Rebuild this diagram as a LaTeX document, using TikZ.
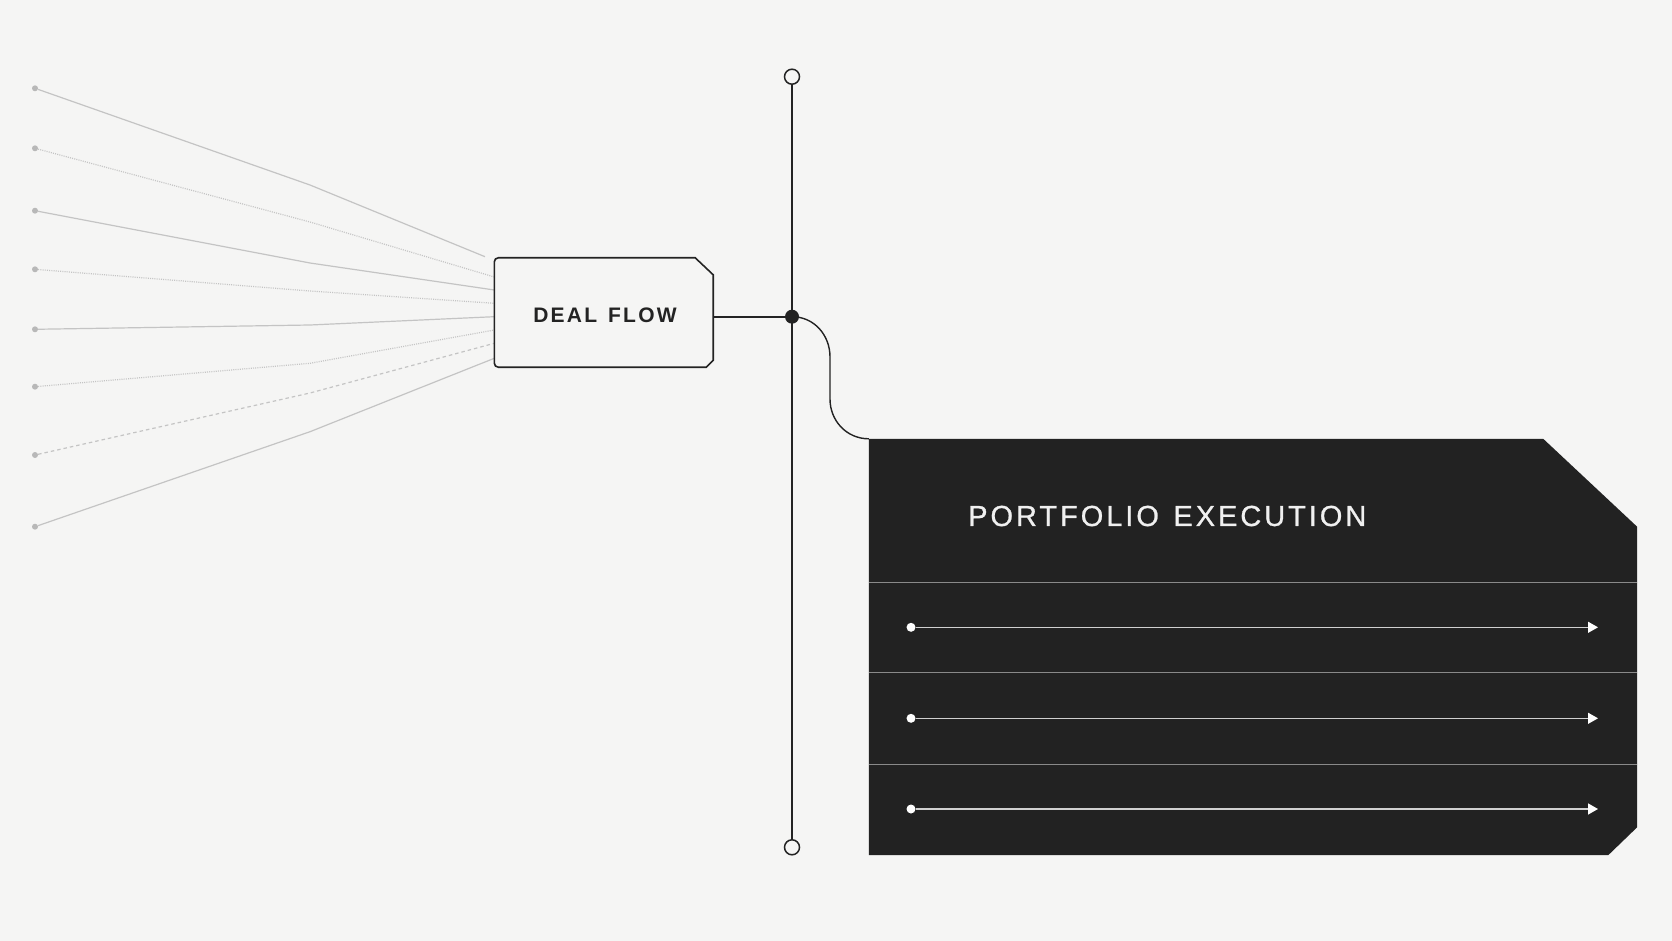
\documentclass[tikz,border=0pt]{standalone}
\usepackage{fontspec}
\setmainfont{Liberation Sans}
\newfontfamily\dealfont{Liberation Sans}[LetterSpace=10.5]
\newfontfamily\portfont{Liberation Sans}[LetterSpace=10.2,FakeBold=0.8]
\usetikzlibrary{calc,arrows.meta}
\definecolor{bgc}{HTML}{F5F5F4}
\definecolor{ink}{HTML}{232323}
\definecolor{fan}{HTML}{C4C4C4}
\definecolor{srcdot}{HTML}{B8B8B8}
\definecolor{panel}{HTML}{222222}
\definecolor{divc}{HTML}{8A8A8A}
\definecolor{rowc}{HTML}{D0D0D0}
\tikzset{
  fanline/.style={draw=fan, line width=1.2pt},
  fandot/.style={fanline, dash pattern=on 1pt off 1.2pt},
  fandash/.style={fanline, dash pattern=on 3.5pt off 3pt},
  srcnode/.style={circle, fill=srcdot, minimum size=6pt, inner sep=0pt},
  inkline/.style={draw=ink, line width=1.6pt},
  endcirc/.style={circle, draw=ink, line width=1.5pt, fill=bgc, minimum size=15pt, inner sep=0pt},
  jdotstyle/.style={circle, fill=ink, minimum size=14pt, inner sep=0pt},
  rowdot/.style={circle, fill=white, minimum size=9pt, inner sep=0pt},
  rowline/.style={draw=rowc, line width=1.3pt, -{Triangle[length=10pt,width=11pt,fill=white,color=white]}},
  divline/.style={draw=divc, line width=0.9pt},
}
\begin{document}
\begin{tikzpicture}[x=1pt,y=-1pt]
\fill[bgc] (0,0) rectangle (1672,941);
\useasboundingbox (0,0) rectangle (1672,941);

% source dots
\node[srcnode] (s1) at (35,88.3) {};
\node[srcnode] (s2) at (35,148.3) {};
\node[srcnode] (s3) at (35,210.7) {};
\node[srcnode] (s4) at (35,269.3) {};
\node[srcnode] (s5) at (35,329.3) {};
\node[srcnode] (s6) at (35,386.7) {};
\node[srcnode] (s7) at (35,455) {};
\node[srcnode] (s8) at (35,526.7) {};

% bends
\coordinate (b1) at (310,185);
\coordinate (b2) at (310,222);
\coordinate (b3) at (310,263);
\coordinate (b4) at (310,291);
\coordinate (b5) at (310,325);
\coordinate (b6) at (310,363.3);
\coordinate (b7) at (310,393);
\coordinate (b8) at (310,431.7);

% deal flow box
\node[minimum width=218.5pt, minimum height=109pt, inner sep=0pt] (deal) at (603.75,312.5) {};
\node[anchor=center, inner sep=0pt, text=ink] (dealtxt) at (605,315)
  {\fontsize{21}{25}\selectfont\dealfont\bfseries DEAL\hspace{3pt} FLOW};

% end points on the box
\coordinate (e1) at (485,256.7);
\coordinate (e2) at (deal.west |- 0,277);
\coordinate (e3) at (deal.west |- 0,290);
\coordinate (e4) at (deal.west |- 0,303.3);
\coordinate (e5) at (deal.west |- 0,316.7);
\coordinate (e6) at (deal.west |- 0,330);
\coordinate (e7) at (deal.west |- 0,343.3);
\coordinate (e8) at (deal.west |- 0,358.3);

\draw[fanline] (s1) -- (b1) -- (e1);
\draw[fandot]  (s2) -- (b2) -- (e2);
\draw[fanline] (s3) -- (b3) -- (e3);
\draw[fandot]  (s4) -- (b4) -- (e4);
\draw[fanline] (s5) -- (b5) -- (e5);
\draw[fandot]  (s6) -- (b6) -- (e6);
\draw[fandash] (s7) -- (b7) -- (e7);
\draw[fanline] (s8) -- (b8) -- (e8);

\draw[inkline] (deal.west) [rounded corners=4pt] -- (deal.north west)
  [sharp corners] -- ([xshift=-18pt]deal.north east) -- ([yshift=-17pt]deal.north east)
  -- ([yshift=7pt]deal.south east) -- ([xshift=-7pt]deal.south east)
  [rounded corners=4pt] -- (deal.south west) [sharp corners] -- cycle;

% spine
\node[endcirc] (top) at (792,76.7) {};
\node[endcirc] (bot) at (792,847.3) {};
\node[jdotstyle] (jdot) at (792,316.7) {};
\draw[inkline] (top) -- (bot);
\draw[inkline] (deal.east |- jdot) -- (jdot);

% portfolio panel
\node[minimum width=768pt, minimum height=416pt, inner sep=0pt] (port) at (1253,647) {};
\fill[panel] (port.north west) -- ([xshift=-94pt]port.north east) -- ([yshift=-88pt]port.north east)
  -- ([yshift=28pt]port.south east) -- ([xshift=-29pt]port.south east) -- (port.south west) -- cycle;

\coordinate (k1) at (830,357);
\coordinate (k2) at (830,399);
\draw[draw=ink, line width=1.4pt] (jdot.center) .. controls +(22,0) and +(0,-22) .. (k1) -- (k2)
  .. controls +(0,22) and +(-22,0) .. (port.north west);

\node[anchor=west, inner sep=0pt, text=white!94!black] (porttxt) at (968,516)
  {\fontsize{29}{34}\selectfont\portfont PORTFOLIO\hspace{3.5pt} EXECUTION};

\draw[divline] (port.west |- 0,582) -- (port.east |- 0,582);
\draw[divline] (port.west |- 0,672.3) -- (port.east |- 0,672.3);
\draw[divline] (port.west |- 0,764) -- (port.east |- 0,764);

\node[rowdot] (r1) at (911,627.3) {};
\node[rowdot] (r2) at (911,718.3) {};
\node[rowdot] (r3) at (911,809) {};
\coordinate (t1) at (1598,627.3);
\coordinate (t2) at (1598,718.3);
\coordinate (t3) at (1598,809);
\draw[rowline] (r1) -- (t1);
\draw[rowline] (r2) -- (t2);
\draw[rowline] (r3) -- (t3);
\end{tikzpicture}
\end{document}
